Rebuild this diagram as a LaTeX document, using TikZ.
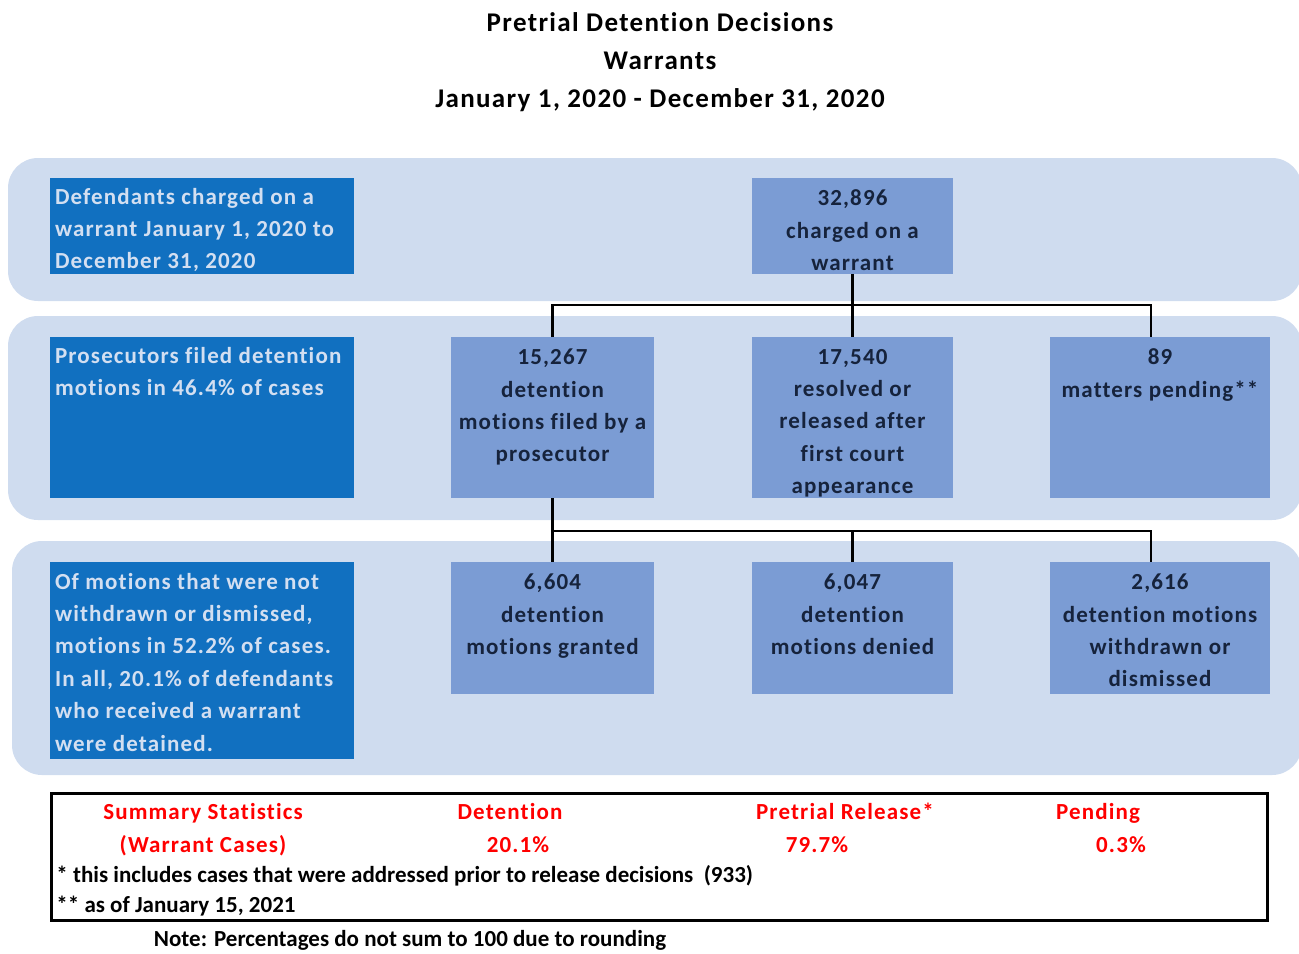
\documentclass[tikz,border=0pt]{standalone}
\usepackage{fontspec}
\setmainfont{Carlito}[LetterSpace=5, Ligatures=NoCommon]
\newfontfamily\notefont{Carlito}[Ligatures=NoCommon]
\usetikzlibrary{calc,positioning}
\definecolor{bandfill}{HTML}{CFDCEF}
\definecolor{sidefill}{HTML}{1170C0}
\definecolor{sidetext}{HTML}{D3DFF1}
\definecolor{tallyfill}{HTML}{7B9CD4}
\definecolor{tallytext}{HTML}{16233C}
\newcommand{\cell}[4]{\parbox[c][#1][t]{#2}{\vspace*{#3}#4}}
\tikzset{band/.style={fill=bandfill, rounded corners=15pt}, sidebox/.style={anchor=north west, fill=sidefill, text=sidetext, inner xsep=2.5pt, inner ysep=0pt, outer sep=0pt}, tallybox/.style={anchor=north west, fill=tallyfill, text=tallytext, inner sep=0pt, outer sep=0pt}, link/.style={draw=black, line width=1.1pt}, stat/.style={text=red, inner sep=0pt, anchor=base}, foot/.style={anchor=west, inner sep=0pt, font=\notefont\bfseries\fontsize{11.5}{14}\selectfont}, heading/.style={font=\bfseries\fontsize{13.5}{16}\selectfont, inner sep=0pt}}

\begin{document}
\begin{tikzpicture}[x=0.5pt, y=-0.5pt, font=\bfseries\fontsize{11.5}{16.2}\selectfont]
    \useasboundingbox (0,0) rectangle (1299,953);
    \node[heading] (H1) at (660,22) {Pretrial Detention Decisions};
    \node[heading] (H2) at (660,61) {Warrants};
    \node[heading] (H3) at (660,100) {January 1, 2020 - December 31, 2020};
    \fill[band] (8,158) rectangle (1302,301);
    \fill[band] (8,316) rectangle (1302,520);
    \fill[band] (12,541) rectangle (1302,775);
    \node[sidebox] (S1) at (50,178) {\cell{48pt}{147pt}{5pt}{\raggedright Defendants charged on a\\ warrant January 1, 2020 to\\ December 31, 2020}};
    \node[sidebox] (S2) at (50,337) {\cell{80.5pt}{147pt}{5pt}{\raggedright Prosecutors filed detention\\ motions in 46.4\% of cases}};
    \node[sidebox] (S3) at (50,562) {\cell{98.5pt}{147pt}{5.5pt}{\raggedright Of motions that were not\\ withdrawn or dismissed,\\ motions in 52.2\% of cases.\\ In all, 20.1\% of defendants\\ who received a warrant\\ were detained.}};
    \node[tallybox] (T) at (752,178) {\cell{48pt}{100.5pt}{6pt}{\centering 32,896\\ charged on a\\ warrant}};
    \node[tallybox] (A) at (451,337) {\cell{80.5pt}{101.5pt}{6pt}{\centering 15,267\\ detention\\ motions filed by a\\ prosecutor}};
    \node[tallybox] (B) at (752,337) {\cell{80.5pt}{100.5pt}{6pt}{\centering 17,540\\ resolved or\\ released after\\ first court\\ appearance}};
    \node[tallybox] (C) at (1050,337) {\cell{80.5pt}{110pt}{6pt}{\centering 89\\ matters pending**}};
    \node[tallybox] (D) at (451,562) {\cell{66pt}{101.5pt}{6pt}{\centering 6,604\\ detention\\ motions granted}};
    \node[tallybox] (E) at (752,562) {\cell{66pt}{100.5pt}{6pt}{\centering 6,047\\ detention\\ motions denied}};
    \node[tallybox] (F) at (1050,562) {\cell{66pt}{110pt}{6pt}{\centering 2,616\\ detention motions\\ withdrawn or\\ dismissed}};
    \coordinate (j1) at (1151,305);
    \coordinate (j2) at (1151,531);
    \draw[link] (T.south) -- (B.north);
    \draw[link] (A.north) |- (j1) -- (j1 |- C.north);
    \draw[link] (A.south) -- (D.north);
    \draw[link] (D.north |- j2) -- (j2) -- (j2 |- F.north);
    \draw[link] (E.north) -- (E.north |- j2);
    \node[draw, line width=1.75pt, anchor=north west, outer sep=0pt, minimum width=608pt, minimum height=63.5pt, inner sep=0pt] (sum) at (51.5,793.5) {};
    \node[stat] (L1) at (203,819) {Summary Statistics};
    \node[stat] (L2) at (203,852) {(Warrant Cases)};
    \node[stat] (D1) at (510,819) {Detention};
    \node[stat] (D2) at (518,852) {20.1\%};
    \node[stat] (R1) at (845,819) {Pretrial Release*};
    \node[stat] (R2) at (817,852) {79.7\%};
    \node[stat] (P1) at (1098,819) {Pending};
    \node[stat] (P2) at (1121,852) {0.3\%};
    \node[foot] (n1) at (56,876) {* this includes cases that were addressed prior to release decisions\ \ (933)};
    \node[foot] (n2) at (56,906) {** as of January 15, 2021};
    \node[foot, anchor=center] (n3) at (410,940) {Note: Percentages do not sum to 100 due to rounding};
\end{tikzpicture}
\end{document}
